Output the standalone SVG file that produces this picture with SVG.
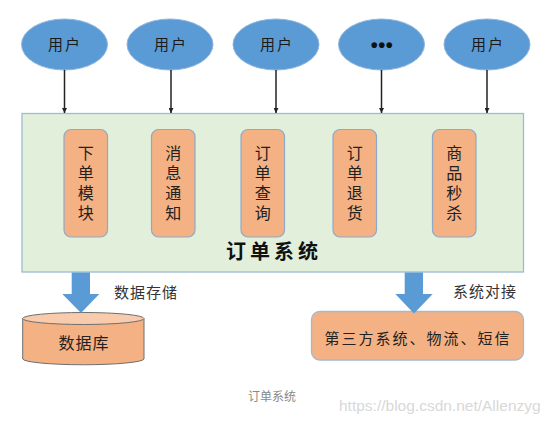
<svg xmlns="http://www.w3.org/2000/svg" width="554" height="425" viewBox="0 0 554 425">
<defs>
<style>
.user{fill:#5b9bd5;stroke:#8fb4de;stroke-width:1}
.ut{font-family:"Noto Sans CJK SC","Noto Sans CJK TC",serif;font-size:15px;fill:#1a1a1a;text-anchor:middle;letter-spacing:2px}
.mod{fill:#f4b183;stroke:#8ea9c8;stroke-width:1.2}
.mt{font-family:"Noto Sans CJK SC",serif;font-size:16px;fill:#222;writing-mode:vertical-rl;text-orientation:upright;letter-spacing:4px}
.lbl{font-family:"Noto Sans CJK SC",serif;font-size:15px;fill:#333;letter-spacing:1px}
.conn{stroke:#222;stroke-width:1.5;fill:none}
.big{fill:#5b9bd5}
</style>
<marker id="ah" viewBox="0 0 10 10" refX="10" refY="5" markerWidth="5" markerHeight="5" orient="auto" markerUnits="userSpaceOnUse">
<path d="M0,0 L10,5 L0,10 z" fill="#222"/>
</marker>
</defs>
<rect width="554" height="425" fill="#ffffff"/>

<g id="users">
<g id="user1"><ellipse class="user" cx="64.5" cy="44.5" rx="43" ry="25.5"/><text class="ut" x="65" y="50">用户</text></g>
<g id="user2"><ellipse class="user" cx="170" cy="44.5" rx="43" ry="25.5"/><text class="ut" x="171" y="50">用户</text></g>
<g id="user3"><ellipse class="user" cx="276" cy="44.5" rx="43" ry="25.5"/><text class="ut" x="277" y="50">用户</text></g>
<g id="user4"><ellipse class="user" cx="381.5" cy="44.5" rx="43" ry="25.5"/><text x="382" y="51.5" font-family="'Liberation Sans',Arial,sans-serif" font-size="20" font-weight="bold" fill="#111" text-anchor="middle" letter-spacing="0.5">•••</text></g>
<g id="user5"><ellipse class="user" cx="487" cy="44.5" rx="43" ry="25.5"/><text class="ut" x="488" y="50">用户</text></g>
</g>

<g id="order-system">
<rect x="22" y="113.5" width="501.5" height="158.5" fill="#e2efda" stroke="#9dbbd6" stroke-width="1.3"/>
<text x="274" y="259" font-family="'Noto Sans CJK SC',serif" font-size="20" font-weight="bold" fill="#111" text-anchor="middle" letter-spacing="4">订单系统</text>
</g>

<g id="mod1"><rect class="mod" x="64" y="129.5" width="43.5" height="107.5" rx="7"/>
<text class="mt" x="85.7" y="145">下单模块</text></g>
<g id="mod2"><rect class="mod" x="151.5" y="129.5" width="43.5" height="107.5" rx="7"/>
<text class="mt" x="173.2" y="145">消息通知</text></g>
<g id="mod3"><rect class="mod" x="241" y="129.5" width="43.5" height="107.5" rx="7"/>
<text class="mt" x="262.7" y="145">订单查询</text></g>
<g id="mod4"><rect class="mod" x="333" y="129.5" width="43.5" height="107.5" rx="7"/>
<text class="mt" x="354.7" y="145">订单退货</text></g>
<g id="mod5"><rect class="mod" x="432.5" y="129.5" width="43.5" height="107.5" rx="7"/>
<text class="mt" x="454.2" y="145">商品秒杀</text></g>

<g id="database">
<path d="M22.7,318.5 L22.7,359 A60.7,6 0 0 0 144,359 L144,318.5" fill="#f4b183" stroke="#6f6f6f" stroke-width="1"/>
<ellipse cx="83.3" cy="318.5" rx="60.7" ry="6" fill="#f8cbad" stroke="#6f6f6f" stroke-width="1"/>
<text x="84" y="349" font-family="'Noto Sans CJK SC',serif" font-size="16" fill="#222" text-anchor="middle" letter-spacing="1">数据库</text>
</g>

<g id="third-party">
<rect x="311.5" y="311.5" width="212" height="48.5" rx="8" fill="#f4b183" stroke="#9dbbd6" stroke-width="1.3"/>
<text x="418" y="344" font-family="'Noto Sans CJK SC',serif" font-size="15" fill="#222" text-anchor="middle" letter-spacing="2">第三方系统、物流、短信</text>
</g>

<g id="connectors">
<line class="conn" x1="64.5" y1="70" x2="64.5" y2="113" marker-end="url(#ah)"/>
<line class="conn" x1="171" y1="70" x2="171" y2="113" marker-end="url(#ah)"/>
<line class="conn" x1="276" y1="70" x2="276" y2="113" marker-end="url(#ah)"/>
<line class="conn" x1="381.5" y1="70" x2="381.5" y2="113" marker-end="url(#ah)"/>
<line class="conn" x1="487" y1="70" x2="487" y2="113" marker-end="url(#ah)"/>
<path class="big" d="M71.7,272.5 L90,272.5 L90,294 L99.3,294 L81,313 L62.3,294 L71.7,294 z"/>
<path class="big" d="M404.7,272.5 L423,272.5 L423,294 L432.7,294 L414,313.5 L395.3,294 L404.7,294 z"/>
<text class="lbl" x="114" y="298">数据存储</text>
<text class="lbl" x="453" y="297">系统对接</text>
</g>

<text x="272" y="401" font-family="'Noto Sans CJK SC',sans-serif" font-size="12" fill="#888" text-anchor="middle">订单系统</text>
<text x="339" y="411" font-family="'Liberation Sans',Arial,sans-serif" font-size="15.5" fill="#d8d8d8">https://blog.csdn.net/Allenzyg</text>
</svg>
